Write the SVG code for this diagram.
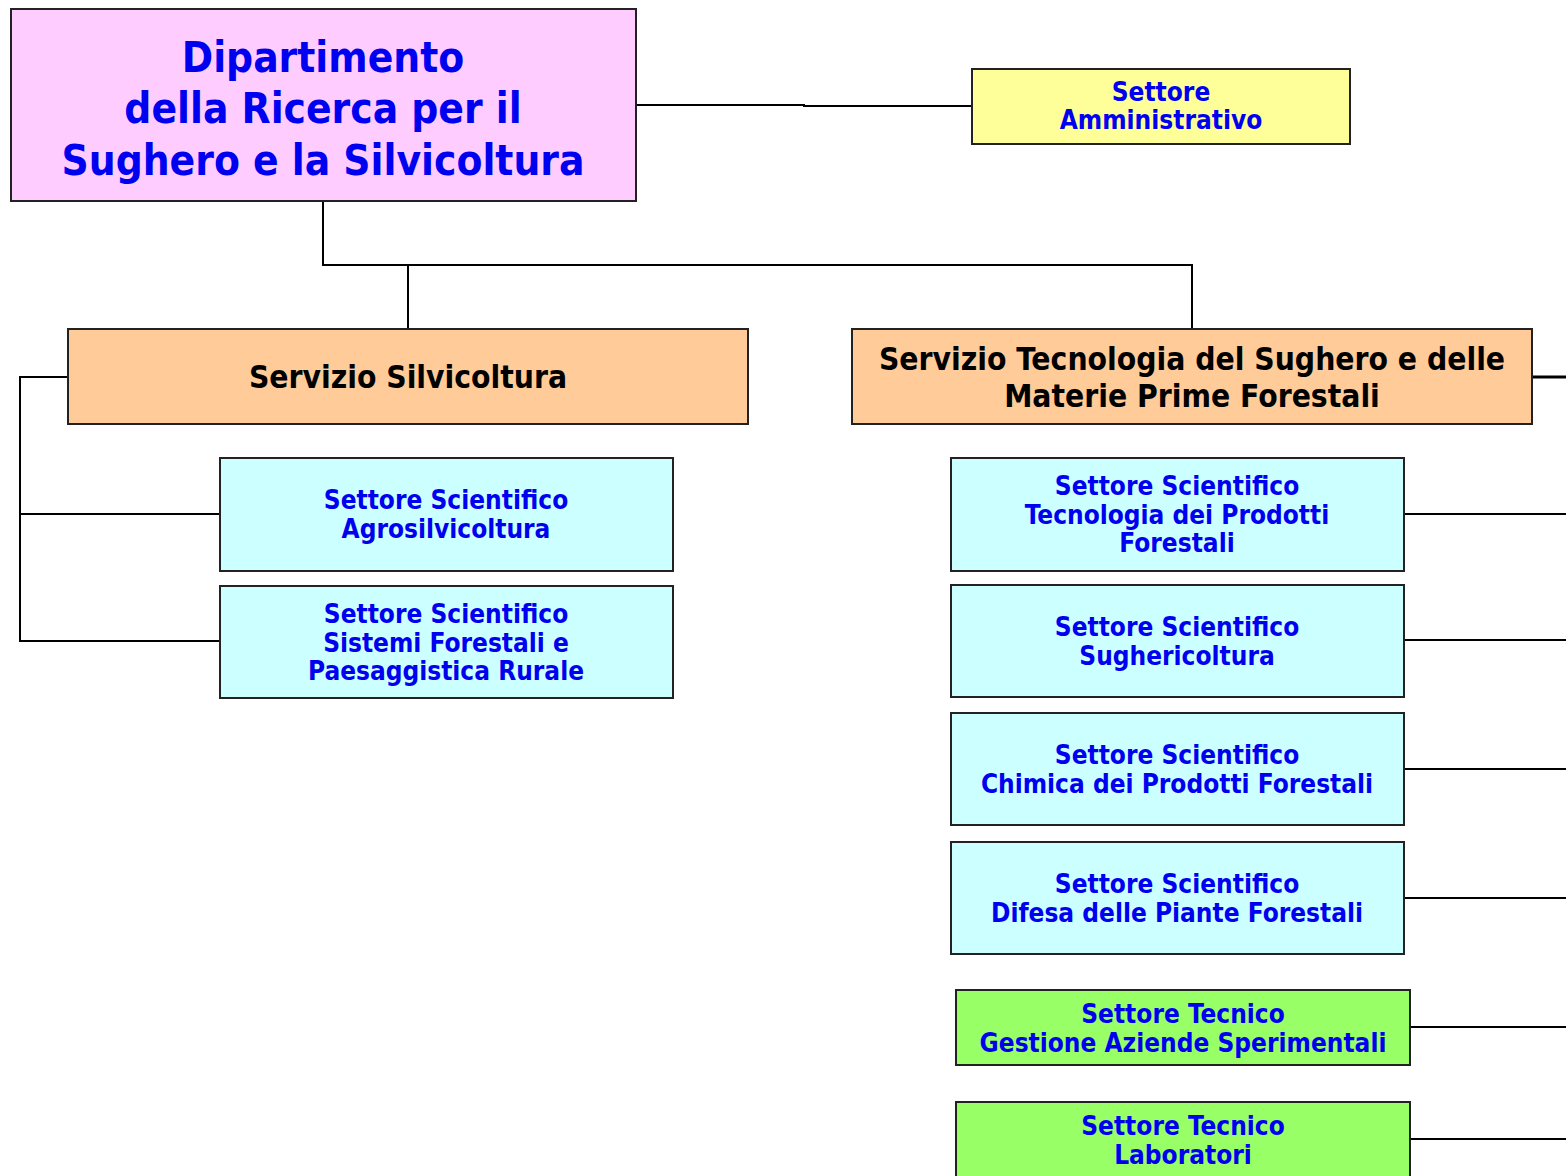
<svg xmlns="http://www.w3.org/2000/svg" width="1566" height="1176" viewBox="0 0 1566 1176">
<style>
.box{stroke:#222;stroke-width:2}
.t{font-family:"DejaVu Sans Condensed","DejaVu Sans",sans-serif;font-weight:bold;text-anchor:middle}
.blue{fill:#0000F0}
.blk{fill:#000}
.s{font-size:26px}
.conn{fill:none;stroke:#000;stroke-width:2}
</style>
<rect width="1566" height="1176" fill="#fff"/>
<g id="connectors" class="conn">
<path d="M636,105 H804 V106 H972"/>
<path d="M323,201 V265 H1192 V329"/>
<path d="M408,265 V329"/>
<path d="M68,377 H20 V641 H220"/>
<path d="M20,514 H220"/>
<path d="M1532,377 H1566" stroke-width="3"/>
<path d="M1404,514 H1566"/>
<path d="M1404,640 H1566"/>
<path d="M1404,769 H1566"/>
<path d="M1404,898 H1566"/>
<path d="M1410,1027 H1566"/>
<path d="M1410,1139 H1566"/>
</g>
<g id="dipartimento">
<rect class="box" x="11" y="9" width="625" height="192" fill="#FFCCFF"/>
<text class="t blue" font-size="42"><tspan x="323" y="72">Dipartimento</tspan><tspan x="323" y="123">della Ricerca per il</tspan><tspan x="323" y="175">Sughero e la Silvicoltura</tspan></text>
</g>
<g id="amministrativo">
<rect class="box" x="972" y="69" width="378" height="75" fill="#FFFF99"/>
<text class="t blue s"><tspan x="1161" y="101">Settore</tspan><tspan x="1161" y="129">Amministrativo</tspan></text>
</g>
<g id="silvicoltura">
<rect class="box" x="68" y="329" width="680" height="95" fill="#FFCC99"/>
<text class="t blk" font-size="31.5" x="408" y="388">Servizio Silvicoltura</text>
</g>
<g id="tecnologia">
<rect class="box" x="852" y="329" width="680" height="95" fill="#FFCC99"/>
<text class="t blk" font-size="31.5"><tspan x="1192" y="370">Servizio Tecnologia del Sughero e delle</tspan><tspan x="1192" y="407">Materie Prime Forestali</tspan></text>
</g>
<g id="agrosilvicoltura">
<rect class="box" x="220" y="458" width="453" height="113" fill="#CCFFFF"/>
<text class="t blue s"><tspan x="446" y="509">Settore Scientifico</tspan><tspan x="446" y="538">Agrosilvicoltura</tspan></text>
</g>
<g id="sistemi">
<rect class="box" x="220" y="586" width="453" height="112" fill="#CCFFFF"/>
<text class="t blue s"><tspan x="446" y="623">Settore Scientifico</tspan><tspan x="446" y="652">Sistemi Forestali e</tspan><tspan x="446" y="680">Paesaggistica Rurale</tspan></text>
</g>
<g id="tecnologia-prodotti">
<rect class="box" x="951" y="458" width="453" height="113" fill="#CCFFFF"/>
<text class="t blue s"><tspan x="1177" y="495">Settore Scientifico</tspan><tspan x="1177" y="524">Tecnologia dei Prodotti</tspan><tspan x="1177" y="552">Forestali</tspan></text>
</g>
<g id="sughericoltura">
<rect class="box" x="951" y="585" width="453" height="112" fill="#CCFFFF"/>
<text class="t blue s"><tspan x="1177" y="636">Settore Scientifico</tspan><tspan x="1177" y="665">Sughericoltura</tspan></text>
</g>
<g id="chimica">
<rect class="box" x="951" y="713" width="453" height="112" fill="#CCFFFF"/>
<text class="t blue s"><tspan x="1177" y="764">Settore Scientifico</tspan><tspan x="1177" y="793">Chimica dei Prodotti Forestali</tspan></text>
</g>
<g id="difesa">
<rect class="box" x="951" y="842" width="453" height="112" fill="#CCFFFF"/>
<text class="t blue s"><tspan x="1177" y="893">Settore Scientifico</tspan><tspan x="1177" y="922">Difesa delle Piante Forestali</tspan></text>
</g>
<g id="aziende">
<rect class="box" x="956" y="990" width="454" height="75" fill="#99FF66"/>
<text class="t blue s"><tspan x="1183" y="1023">Settore Tecnico</tspan><tspan x="1183" y="1052">Gestione Aziende Sperimentali</tspan></text>
</g>
<g id="laboratori">
<rect class="box" x="956" y="1102" width="454" height="80" fill="#99FF66"/>
<text class="t blue s"><tspan x="1183" y="1135">Settore Tecnico</tspan><tspan x="1183" y="1164">Laboratori</tspan></text>
</g>
</svg>
